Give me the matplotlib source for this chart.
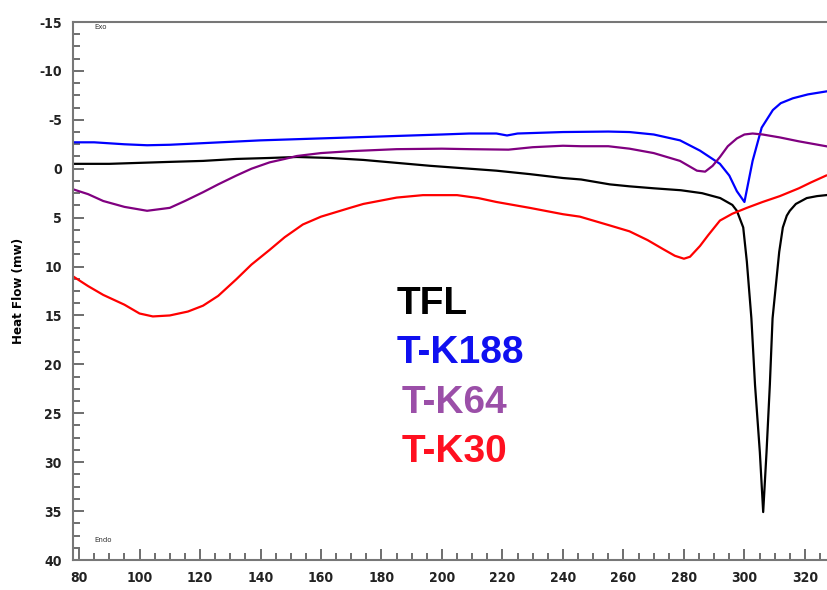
import matplotlib
matplotlib.use('Agg')
import matplotlib.pyplot as plt
from matplotlib.ticker import MultipleLocator

plt.rcParams['axes.unicode_minus'] = False

# temperature (C) / heat flow (mW)
tfl_T = [78, 90, 100, 110, 121, 132, 143, 152, 163, 174, 185, 196, 207, 218, 229, 240,
         246, 255.5, 262, 270, 279, 286, 292, 296, 297.5, 299.6, 300.8, 302.3, 303.5, 305.1,
         306.2, 307.3, 308.4, 309.3, 311.5, 312.7, 314, 315, 317, 320.6, 324, 327]
tfl_Q = [-0.5, -0.5, -0.6, -0.7, -0.8, -1.0, -1.1, -1.2, -1.1, -0.9, -0.6, -0.3, -0.05, 0.2, 0.55, 0.95,
         1.1, 1.6, 1.8, 2.0, 2.2, 2.5, 3.0, 3.7, 4.3, 6.0, 9.5, 15.3, 22.1, 29.0,
         35.1, 29.0, 22.1, 15.3, 8.5, 6.0, 4.8, 4.3, 3.6, 3.0, 2.8, 2.7]

k188_T = [78, 85, 95, 102.5, 110, 120, 130, 140, 150, 160, 170, 185, 200, 209, 218, 221.5,
          225, 240, 255, 262, 270, 278.7, 285.3, 291.9, 295, 297.5, 300, 302.7, 305.7, 309.4,
          312, 316, 321, 327]
k188_Q = [-2.7, -2.7, -2.5, -2.4, -2.45, -2.6, -2.75, -2.9, -3.0, -3.1, -3.2, -3.35, -3.5, -3.6, -3.6, -3.4,
          -3.6, -3.75, -3.8, -3.75, -3.5, -2.9, -1.85, -0.5, 0.7, 2.3, 3.4, -0.8, -4.2, -6.0,
          -6.7, -7.2, -7.6, -7.9]

k64_T = [78, 83, 88, 95, 102.5, 110, 115, 121, 126, 132, 137, 143, 148, 152, 160, 170, 185,
         200, 209, 222, 230, 240, 246, 255, 262, 270, 278.7, 284.3, 287, 289.5, 291.9, 294.5,
         297.5, 300, 302.7, 306, 311.7, 318, 327]
k64_Q = [2.1, 2.6, 3.3, 3.9, 4.3, 4.0, 3.3, 2.4, 1.6, 0.7, 0.0, -0.65, -1.0, -1.3, -1.6, -1.8, -2.0,
         -2.05, -2.0, -1.95, -2.2, -2.35, -2.3, -2.3, -2.05, -1.6, -0.8, 0.2, 0.3, -0.3, -1.2, -2.3,
         -3.1, -3.5, -3.6, -3.5, -3.2, -2.8, -2.3]

k30_T = [78, 83, 88, 95, 100, 104.4, 110, 116, 121, 126, 132, 137, 143, 148, 154, 160, 169.6,
         174, 185, 193.7, 205, 212, 218, 229, 240, 245.6, 255.5, 262, 268, 273, 277, 280, 282,
         285.3, 288, 291.9, 296, 300.8, 306, 311.7, 318, 322, 327]
k30_Q = [11.0, 12.0, 12.9, 13.9, 14.8, 15.1, 15.0, 14.6, 14.0, 13.0, 11.3, 9.8, 8.3, 7.0, 5.7, 4.9, 4.0,
         3.6, 2.95, 2.7, 2.7, 3.0, 3.4, 4.0, 4.65, 4.9, 5.8, 6.4, 7.3, 8.2, 8.9, 9.2, 9.0,
         7.9, 6.8, 5.3, 4.6, 4.0, 3.4, 2.8, 2.0, 1.4, 0.7]

names = ['TFL', 'T-K188', 'T-K64', 'T-K30']
line_colors = ['black', '#0000ff', '#800080', '#ff0000']
text_colors = ['black', '#1010f0', '#9b4fa8', '#ff1020']

narrow = ['Liberation Sans Narrow', 'DejaVu Sans']

fig = plt.figure(figsize=(8.27, 5.9), dpi=100)
ax = fig.add_axes([73/827, 30/590, 754/827, 538/590])

series = [(tfl_T, tfl_Q), (k188_T, k188_Q), (k64_T, k64_Q), (k30_T, k30_Q)]
for (t, q), c in zip(series, line_colors):
    ax.plot(t, q, color=c, lw=1.6)

ax.set_xlim(78, 327.3)
ax.set_ylim(40, -15)

ax.xaxis.set_major_locator(MultipleLocator(20))
ax.xaxis.set_minor_locator(MultipleLocator(5))
ax.yaxis.set_major_locator(MultipleLocator(5))
ax.yaxis.set_minor_locator(MultipleLocator(1.25))
ax.tick_params(which='both', direction='in', color='#555555', width=1.2)
ax.tick_params(which='major', length=8, pad=8, labelsize=10, labelcolor='#222222')
ax.tick_params(which='minor', length=5)
ax.tick_params(axis='x', which='both', top=False)
ax.tick_params(axis='y', which='both', right=False)
for lab in ax.get_xticklabels() + ax.get_yticklabels():
    lab.set_family(narrow)
    lab.set_fontweight('bold')
    lab.set_fontstretch('condensed')

ax.spines['right'].set_visible(False)
for s in ['left', 'bottom', 'top']:
    ax.spines[s].set_color('#777777')
    ax.spines[s].set_linewidth(1.5)

ax.set_ylabel('Heat Flow (mw)', fontsize=9.5, fontweight='bold', family=narrow,
              fontstretch='condensed')
ax.yaxis.set_label_coords(-48/754, 0.5)

ax.text(85, -14.3, 'Exo', fontsize=5, color='#333333', family=narrow)
ax.text(85, 38.2, 'Endo', fontsize=5, color='#333333', family=narrow)

# curve names, placed like the original annotation block
name_x = [185, 185, 186.5, 186.5]
name_y = [13.8, 18.8, 24.0, 29.0]
for nm, c, tx, ty in zip(names, text_colors, name_x, name_y):
    ax.text(tx, ty, nm, color=c, fontsize=28, fontweight='bold',
            family=['Liberation Sans', 'DejaVu Sans'], va='center', ha='left')

fig.savefig('out.png', dpi=100)
